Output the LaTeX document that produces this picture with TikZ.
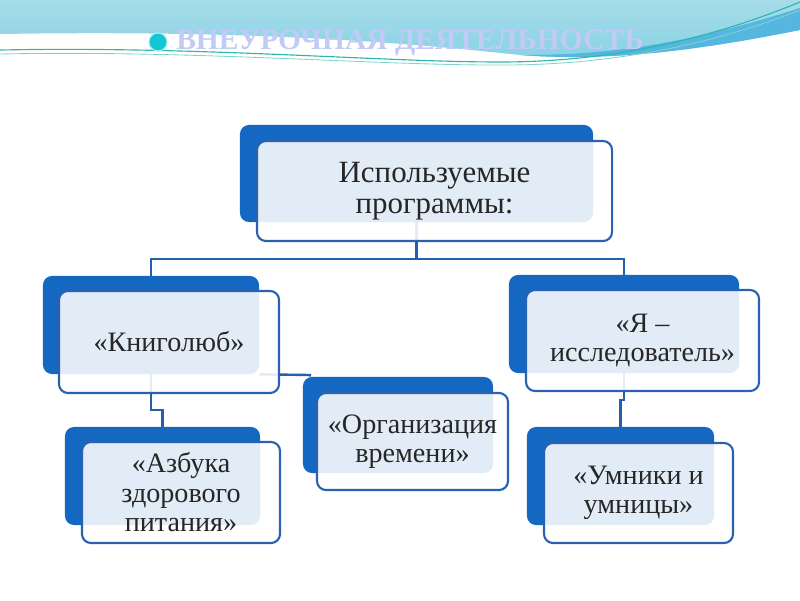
\documentclass[tikz,border=0pt]{standalone}
\usepackage{fontspec}
\setmainfont{Liberation Serif}
\usetikzlibrary{calc,positioning}

\definecolor{boxblue}{HTML}{1468C2}
\definecolor{edgeblue}{HTML}{2A62B0}
\definecolor{linkblue}{HTML}{2460AA}
\definecolor{bandtop}{HTML}{A6DCE9}
\definecolor{bandlow}{HTML}{86D2E4}
\definecolor{swoosh}{HTML}{55B6E0}
\definecolor{wave}{HTML}{2DB7A8}
\definecolor{titlecol}{HTML}{C2CAF6}
\definecolor{dotcol}{HTML}{12C6D6}

\begin{document}
\begin{tikzpicture}[x=0.025cm,y=-0.025cm,
  back/.style={fill=boxblue,rounded corners=0.225cm,inner sep=0pt},
  front/.style={draw=edgeblue,line width=1.5pt,fill=white,fill opacity=0.88,
    text opacity=1,text=black!85,rounded corners=0.225cm,inner sep=0pt,
    align=center,font=\fontsize{20}{21}\selectfont},
  link/.style={draw=linkblue,line width=1.7pt}]
  \useasboundingbox (0,0) rectangle (800,600);
  % фон сверху
  \shade[top color=bandtop,bottom color=bandlow]
    (0,0) -- (800,0) -- (800,30) .. controls (700,50) and (610,62) .. (520,55)
    .. controls (400,42) and (250,30) .. (0,34) -- cycle;
  \fill[swoosh] (520,55) .. controls (640,56) and (730,30) .. (800,8) -- (800,30)
    .. controls (700,50) and (610,62) .. (520,55) -- cycle;
  \draw[wave,line width=0.8pt] (0,50) .. controls (200,46) and (380,62) .. (500,62)
    .. controls (620,62) and (720,35) .. (800,2);
  \draw[wave!60,line width=0.6pt] (0,54) .. controls (200,50) and (380,66) .. (510,65)
    .. controls (630,64) and (730,38) .. (800,10);
  % заголовок
  \node[circle,fill=dotcol,draw=dotcol!35,line width=0.8pt,minimum size=0.45cm,
    inner sep=0pt] (dot) at (158,42) {};
  \node[anchor=west,inner sep=0pt,text=titlecol,
    font=\bfseries\fontsize{21}{21}\selectfont] (title) at (176,43)
    {ВНЕУРОЧНАЯ ДЕЯТЕЛЬНОСТЬ};
  % задние блоки
  \node[back,minimum width=8.825cm,minimum height=2.425cm] (topB) at (416.5,173.5) {};
  \node[back,minimum width=5.4cm,minimum height=2.45cm] (knB) at (151,325) {};
  \node[back,minimum width=4.75cm,minimum height=2.4cm] (orgB) at (398,425) {};
  \node[back,minimum width=5.75cm,minimum height=2.45cm] (yaB) at (624,324) {};
  \node[back,minimum width=4.875cm,minimum height=2.45cm] (azbB) at (162.5,476) {};
  \node[back,minimum width=4.675cm,minimum height=2.45cm] (umnB) at (620.5,476) {};
  % связи
  \coordinate (hub) at (416.5,259);
  \coordinate (knbend) at (151,410);
  \coordinate (orgjoin) at (310,375);
  \coordinate (yabend) at (624,400);
  \draw[link] (topB.south) -- (hub) -| (knB.north);
  \draw[link] (hub) -| (yaB.north);
  \draw[link] (knB.south) -- (knbend) -| (azbB.north);
  \draw[link] (knB.south east) -- (orgjoin) -- (orgjoin |- orgB.north);
  \draw[link] (yaB.south) -- (yabend) -| (umnB.north);
  % передние блоки
  \node[front,minimum width=8.875cm,minimum height=2.5cm,
    font=\fontsize{22}{22}\selectfont] (topF) at ($(topB)+(18,17.5)$)
    {Используемые\\программы:};
  \node[front,minimum width=5.5cm,minimum height=2.55cm] (knF) at ($(knB)+(18,17)$)
    {«Книголюб»};
  \node[front,minimum width=4.775cm,minimum height=2.425cm] (orgF) at ($(orgB)+(14.5,16.5)$)
    {«Организация\\времени»};
  \node[front,minimum width=5.825cm,minimum height=2.525cm] (yaF) at ($(yaB)+(18.5,16.5)$)
    {«Я –\\исследователь»};
  \node[front,minimum width=4.95cm,minimum height=2.525cm] (azbF) at ($(azbB)+(18.5,16.5)$)
    {«Азбука\\здорового\\питания»};
  \node[front,minimum width=4.725cm,minimum height=2.5cm] (umnF) at ($(umnB)+(18,17)$)
    {«Умники и\\умницы»};
\end{tikzpicture}
\end{document}
